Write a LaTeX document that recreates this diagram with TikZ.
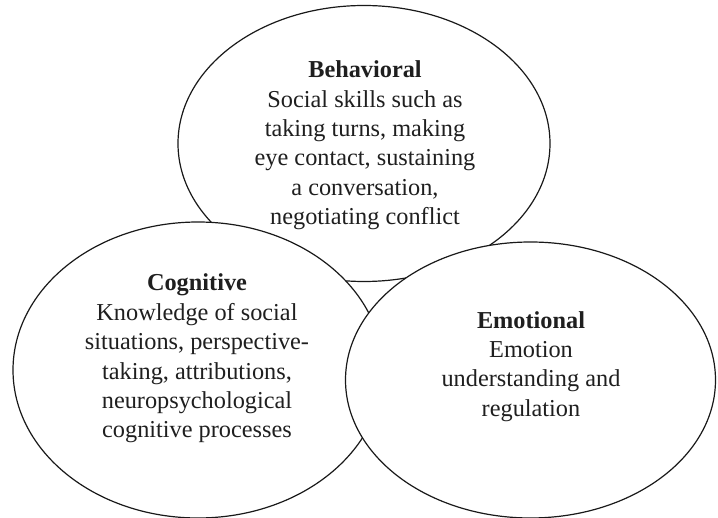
\documentclass[tikz,border=0pt]{standalone}
\usepackage{fontspec}
\setmainfont{Liberation Serif}
\usetikzlibrary{shapes.geometric}
\tikzset{
  circ/.style={ellipse, draw=black!90, line width=1.2pt, fill=white, inner sep=0pt},
  label/.style={align=center, inner sep=0pt, font=\fontsize{24.3}{29.4}\selectfont, text=black!88}
}
\begin{document}
\begin{tikzpicture}[x=1pt,y=-1pt]
\useasboundingbox (0,0) rectangle (718,518);
\node[circ, minimum width=372pt, minimum height=276pt] (beh) at (364,143.5) {};
\node[label] (behtext) at (365,145.4) {\textbf{Behavioral}\\Social skills such as\\taking turns, making\\eye contact, sustaining\\a conversation,\\negotiating conflict};
\node[circ, minimum width=370pt, minimum height=296pt] (cog) at (198,370) {};
\node[label] (cogtext) at (197,358.5) {\textbf{Cognitive}\\Knowledge of social\\situations, perspective-\\taking, attributions,\\neuropsychological\\cognitive processes};
\node[circ, minimum width=370pt, minimum height=276pt] (emo) at (530.5,380) {};
\node[label] (emotext) at (531,366.3) {\textbf{Emotional}\\Emotion\\understanding and\\regulation};
\end{tikzpicture}
\end{document}
